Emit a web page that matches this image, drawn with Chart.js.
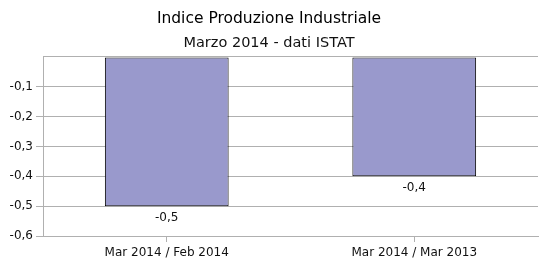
<!DOCTYPE html>
<html>
<head>
<meta charset="utf-8">
<script src="https://cdn.jsdelivr.net/npm/chart.js@4.4.0/dist/chart.umd.min.js"></script>
<style>
  html, body { margin: 0; padding: 0; background: #fff; }
  #wrap { width: 550px; height: 270px; }
</style>
</head>
<body>
<div id="wrap"><canvas id="chart"></canvas></div>
<script>
const categories = ['Mar 2014 / Feb 2014', 'Mar 2014 / Mar 2013'];
const values = [-0.5, -0.4];
const yTicks = [0, -0.1, -0.2, -0.3, -0.4, -0.5, -0.6];

const fmt = v => v.toFixed(1).replace('.', ',');

// labels under each bar end
const barLabels = {
    id: 'barLabels',
    afterDatasetsDraw(chart) {
        const ctx = chart.ctx;
        const meta = chart.getDatasetMeta(0);
        ctx.save();
        ctx.font = '12px "DejaVu Sans"';
        ctx.fillStyle = '#111';
        ctx.textAlign = 'center';
        ctx.textBaseline = 'middle';
        meta.data.forEach((bar, i) => {
            ctx.fillText(fmt(values[i]), bar.x, bar.y + 12);
        });
        ctx.restore();
    }
};

new Chart(document.getElementById('chart').getContext('2d'), {
    type: 'bar',
    data: {
        labels: categories,
        datasets: [{
            data: values,
            backgroundColor: '#9999cc',
            borderColor: '#000',
            borderWidth: 1,
            borderSkipped: false,
            categoryPercentage: 1,
            barPercentage: 0.5
        }]
    },
    options: {
        responsive: true,
        maintainAspectRatio: false,
        animation: false,
        layout: { padding: { left: 0, right: 12, top: 0, bottom: 0 } },
        plugins: {
            legend: { display: false },
            tooltip: { enabled: false },
            title: {
                display: true,
                text: 'Indice Produzione Industriale',
                color: '#000',
                font: { family: 'DejaVu Sans', size: 15.5, weight: 'normal' },
                padding: { top: 10, bottom: 6 }
            },
            subtitle: {
                display: true,
                text: 'Marzo 2014 - dati ISTAT',
                color: '#111',
                font: { family: 'DejaVu Sans', size: 14.5, weight: 'normal' },
                padding: { top: 0, bottom: 5 }
            }
        },
        scales: {
            x: {
                grid: { display: true, drawOnChartArea: false, color: '#b0b0b0', tickLength: 6, offset: false },
                border: { color: '#b0b0b0' },
                ticks: { color: '#111', font: { family: 'DejaVu Sans', size: 12 }, padding: 4 },
                afterFit: s => { s.height = 34; }
            },
            y: {
                min: -0.6,
                max: 0,
                afterBuildTicks: s => { s.ticks = yTicks.map(v => ({ value: v })); },
                grid: {
                    color: '#b0b0b0',
                    tickLength: 7,
                    tickColor: c => (c.tick && c.tick.value === 0 ? 'rgba(0,0,0,0)' : '#b0b0b0')
                },
                border: { color: '#b0b0b0' },
                ticks: {
                    color: '#111',
                    font: { family: 'DejaVu Sans', size: 12 },
                    padding: 3,
                    callback: v => (v === 0 ? '' : fmt(v))
                },
                afterFit: s => { s.width = 43; }
            }
        }
    },
    plugins: [barLabels]
});
</script>
</body>
</html>
